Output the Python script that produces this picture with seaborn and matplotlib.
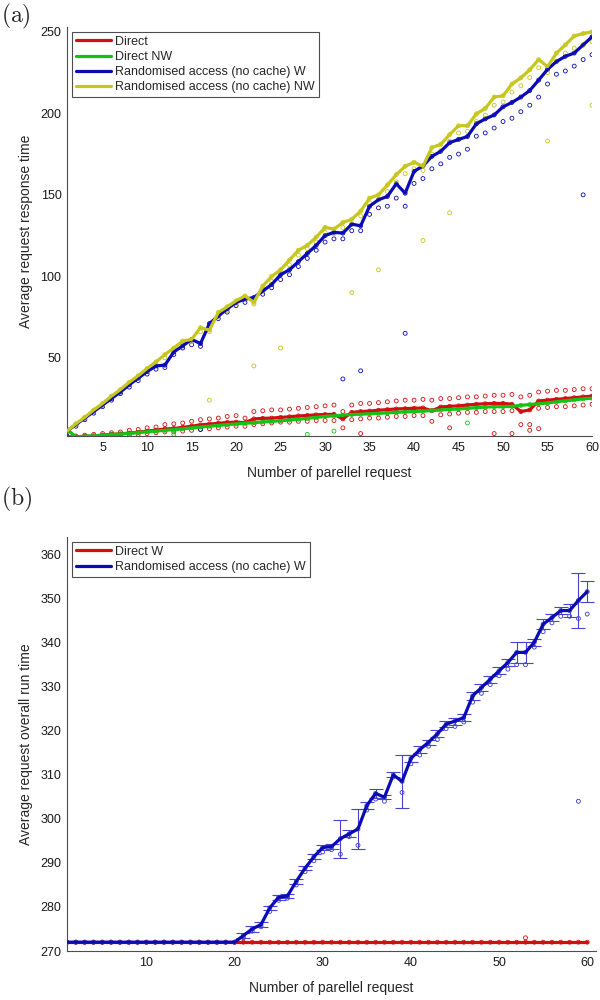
import numpy as np
import pandas as pd
import matplotlib
matplotlib.use('Agg')
import matplotlib.pyplot as plt
import seaborn as sns

# ---- panel (a): average request response time ----
requests = list(range(1, 61))

direct = [1.5, 1.5, 1.8, 2.0, 2.5, 3.0, 3.3, 3.8, 4.3, 5.0,
          5.6, 6.3, 6.6, 7.3, 8.0, 8.8, 9.3, 9.8, 10.3, 10.5,
          10.2, 12.5, 12.8, 13.0, 13.4, 13.8, 14.3, 14.6, 15.0, 15.2,
          15.3, 12.5, 16.5, 17.0, 17.3, 17.8, 18.2, 18.6, 18.8, 19.0,
          19.2, 17.5, 19.8, 20.2, 20.5, 21.0, 21.5, 21.8, 22.0, 22.0,
          21.5, 17.0, 18.0, 23.5, 24.0, 24.5, 25.0, 25.5, 26.0, 26.5]
direct_hi = [2, 2, 2.5, 3, 3.5, 4, 4.5, 5.5, 6, 7,
             7.5, 9, 9.5, 10, 11, 12, 12.5, 13, 14, 14.5,
             13, 17, 17.5, 18, 18, 18.5, 19, 19.5, 20, 20.5,
             21, 17, 21, 22, 22, 22.5, 23, 23.5, 24, 24,
             24.5, 24, 25, 25, 25.5, 26, 26, 26.5, 27, 27,
             27.5, 26, 27, 29, 29.5, 30, 30, 30.5, 31, 31]
direct_lo = [1, 1, 1.2, 1.5, 1.8, 2, 2.2, 2.6, 3, 3.5,
             4, 4.5, 4.5, 5, 5.5, 6, 6.5, 7, 7.5, 8,
             8, 9, 9.5, 10, 10.5, 10.5, 11, 11, 11.5, 11.5,
             11.5, 7, 12, 12.5, 13, 13, 13.5, 14, 14, 14.5,
             14.5, 11, 15, 15.5, 16, 16.5, 16.5, 17, 17, 17,
             17.5, 9, 9, 19, 19.5, 20, 20, 20.5, 21, 21.5]

direct_nw = [6.0, 1.5, 1.8, 2.1, 2.5, 2.9, 3.2, 3.6, 4.1, 4.6,
             5.0, 5.5, 5.9, 6.4, 7.0, 7.5, 8.0, 8.5, 9.0, 9.4,
             9.8, 10.2, 10.6, 11.0, 11.4, 11.8, 12.3, 12.8, 13.4, 14.0,
             14.4, 14.8, 15.2, 15.4, 15.6, 15.9, 16.2, 16.5, 16.8, 17.0,
             17.3, 17.6, 18.0, 18.3, 18.6, 19.0, 19.4, 19.7, 20.0, 20.0,
             20.2, 20.8, 21.3, 21.8, 22.3, 23.0, 23.6, 24.2, 24.8, 25.2]

rand_w = [5, 9, 13, 17, 21, 25, 29, 33.5, 37.5, 41.5,
          45, 45.5, 53.6, 57.3, 61.3, 58.7, 71, 75.6, 80, 84,
          86, 87, 91, 95, 101, 104, 109, 114, 119, 125,
          127, 126.5, 132, 131, 143, 147, 149, 156.8, 151, 164.4,
          167.7, 173.6, 176.7, 182, 184, 185.8, 193.6, 196.6, 199, 204,
          206.7, 210, 214, 220.4, 227, 231.8, 235, 237, 242, 247]
rand_w_lo = [4, 8, 12, 16, 20, 24, 28, 32, 36, 40,
             43, 44, 52, 56, 58, 57, 69, 74, 78, 82,
             84, 85, 89, 93, 98, 101, 106, 111, 116, 121,
             123, 123, 128, 128, 138, 142, 143, 148, 143, 157,
             160, 166, 169, 173, 175, 178, 186, 188, 191, 195,
             197, 201, 205, 210, 218, 224, 226, 229, 233, 236]

rand_nw = [5, 9.5, 13.5, 18, 22, 26.5, 30.5, 35, 39, 43.5,
           47.5, 52, 56, 60.3, 61.3, 68.5, 67, 77.8, 81.3, 85,
           88, 84, 94, 100, 104, 110, 116, 119, 124, 130,
           129, 133, 135, 140, 148, 150, 156, 162.4, 167.5, 170,
           167.5, 179, 181, 187, 192.4, 192.4, 199.7, 203, 210, 210.8,
           218, 221.8, 226.7, 233, 228.7, 237, 242, 247.5, 249, 250]
rand_nw_lo = [4.5, 9, 13, 17, 21, 25.5, 29.5, 34, 38, 42,
              46, 50, 55, 58, 60, 66, 66, 75, 79, 83,
              86, 83, 91, 97, 102, 107, 113, 117, 121, 127,
              126, 130, 132, 137, 145, 147, 152, 158, 163, 166,
              165, 175, 177, 183, 188, 189, 195, 199, 205, 207,
              213, 217, 222, 228, 225, 232, 237, 240, 242, 244]

# single runs far off the mean (x, value)
direct_out_x = [34, 44, 49, 51, 53, 54]
direct_out_y = [3.5, 7, 3.5, 3.5, 5.5, 6.5]
direct_nw_out_x = [13, 28, 31, 46]
direct_nw_out_y = [3, 3, 5, 10]
rand_w_out_x = [16, 32, 34, 39, 59]
rand_w_out_y = [6, 37, 42, 65, 150]
rand_nw_out_x = [17, 22, 25, 33, 36, 41, 44, 55, 60]
rand_nw_out_y = [24, 45, 56, 90, 104, 122, 139, 183, 205]

# ---- panel (b): average request overall run time ----
direct_b = [272.0] * 60
rand_b = [272] * 20 + [
    273.5, 275, 276, 279.8, 282.2, 282.5, 285.8, 288.8, 291.4, 293.5,
    293.7, 295.5, 296.6, 297.7, 303, 305.8, 304.9, 310, 308.5, 313.7,
    315.7, 317.4, 319.3, 321.5, 322.2, 323, 327.9, 329.8, 331.7, 333.6,
    335.5, 337.8, 337.8, 340.1, 344.2, 345.7, 347.3, 347.3, 349.6, 351.6]
rand_b_err = [0] * 20 + [
    0.6, 0.6, 0.5, 0.5, 0.6, 0.5, 0.5, 0.5, 0.6, 0.6,
    0.5, 4.3, 0.8, 4.6, 0.8, 1.0, 0.5, 0.6, 6.0, 0.8,
    0.8, 0.6, 0.8, 0.7, 0.8, 0.8, 0.8, 0.8, 0.8, 0.8,
    0.8, 2.3, 2.3, 0.8, 1.2, 0.8, 0.8, 1.5, 6.3, 2.4]
rand_b_lo = [272] * 20 + [
    273, 274.5, 275.5, 279, 281.5, 282, 285, 288, 290.5, 292.5,
    293, 292, 296, 294, 302, 304.5, 304, 309.5, 306, 312.5,
    314.5, 316.5, 318, 320.5, 321, 322, 326.5, 328.5, 330.5, 332.5,
    334, 335, 335, 339, 342.5, 344.5, 346, 346, 345.5, 346.5]
direct_b_out_x = [53]
direct_b_out_y = [273]
rand_b_out_x = [59]
rand_b_out_y = [304]

RED = '#d20f0f'
GREEN = '#14c214'
BLUE = '#0b0bb5'
YELLOW = '#c6c61c'

sns.set_theme(style='white')
plt.rcParams['font.family'] = ['Liberation Sans', 'DejaVu Sans']
plt.rcParams['mathtext.fontset'] = 'cm'


def circles(ax, x, y, color):
    sns.scatterplot(x=x, y=y, ax=ax, marker='o', s=8, facecolors='none',
                    edgecolors=color, linewidth=0.6, legend=False, zorder=2)


def style_axes(ax):
    sns.despine(ax=ax)
    for side in ['left', 'bottom']:
        ax.spines[side].set_color('0.3')
        ax.spines[side].set_linewidth(0.8)
    ax.tick_params(direction='in', length=3.5, width=0.7, color='0.3',
                   labelsize=9, labelcolor='0.1', pad=4)


fig = plt.figure(figsize=(6, 10), dpi=100)

# (a)
ax1 = fig.add_axes([0.1117, 0.564, 0.875, 0.409])
circles(ax1, requests + requests + requests + direct_out_x,
        direct_hi + direct_lo + direct + direct_out_y, RED)
circles(ax1, requests + direct_nw_out_x, direct_nw + direct_nw_out_y, GREEN)
circles(ax1, requests + requests + rand_w_out_x, rand_w + rand_w_lo + rand_w_out_y, BLUE)
circles(ax1, requests + requests + rand_nw_out_x, rand_nw + rand_nw_lo + rand_nw_out_y, YELLOW)
sns.lineplot(x=requests, y=direct, ax=ax1, color=RED, lw=2.3, label='Direct', zorder=3)
sns.lineplot(x=requests, y=direct_nw, ax=ax1, color=GREEN, lw=2.3, label='Direct NW', zorder=3)
sns.lineplot(x=requests, y=rand_w, ax=ax1, color=BLUE, lw=2.3,
             label='Randomised access (no cache) W', zorder=3)
sns.lineplot(x=requests, y=rand_nw, ax=ax1, color=YELLOW, lw=2.3,
             label='Randomised access (no cache) NW', zorder=3)
ax1.set_xlim(1, 60)
ax1.set_ylim(2, 253)
ax1.set_xticks(range(5, 61, 5))
ax1.set_yticks(range(50, 251, 50))
ax1.set_xlabel('Number of parellel request', fontsize=10, labelpad=9)
ax1.set_ylabel('Average request response time', fontsize=10)
ax1.yaxis.set_label_coords(-0.064, 0.5)
style_axes(ax1)
leg = ax1.legend(loc='upper left', fontsize=9, frameon=True, fancybox=False,
                 edgecolor='0.3', borderaxespad=0.4, borderpad=0.3,
                 labelspacing=0.25, handlelength=2.8, handletextpad=0.35)
leg.get_frame().set_linewidth(0.8)
leg.get_frame().set_alpha(1)
fig.text(0.002, 0.998, r'$\mathrm{(a)}$', fontsize=17, ha='left', va='top')

# (b)
ax2 = fig.add_axes([0.1117, 0.049, 0.8817, 0.414])
circles(ax2, requests + direct_b_out_x, direct_b + direct_b_out_y, RED)
circles(ax2, requests + requests + rand_b_out_x, rand_b + rand_b_lo + rand_b_out_y, '#3a3ad0')
sns.lineplot(x=requests, y=direct_b, ax=ax2, color=RED, lw=2.3, label='Direct W', zorder=3)
sns.lineplot(x=requests, y=rand_b, ax=ax2, color=BLUE, lw=2.3,
             label='Randomised access (no cache) W', zorder=3)
ax2.errorbar(requests[20:], rand_b[20:], yerr=rand_b_err[20:], fmt='none',
             ecolor='#4444cc', elinewidth=0.8, capsize=5, capthick=0.8, zorder=2)
ax2.set_xlim(1, 61)
ax2.set_ylim(270, 364)
ax2.set_xticks(range(10, 61, 10))
ax2.set_yticks(range(270, 361, 10))
ax2.set_xlabel('Number of parellel request', fontsize=10, labelpad=9)
ax2.set_ylabel('Average request overall run time', fontsize=10)
ax2.yaxis.set_label_coords(-0.064, 0.5)
style_axes(ax2)
leg2 = ax2.legend(loc='upper left', fontsize=9, frameon=True, fancybox=False,
                  edgecolor='0.3', borderaxespad=0.4, borderpad=0.3,
                  labelspacing=0.25, handlelength=2.8, handletextpad=0.35)
leg2.get_frame().set_linewidth(0.8)
leg2.get_frame().set_alpha(1)
fig.text(0.002, 0.515, r'$\mathrm{(b)}$', fontsize=17, ha='left', va='top')

fig.savefig('out.png', dpi=100, facecolor='white')
